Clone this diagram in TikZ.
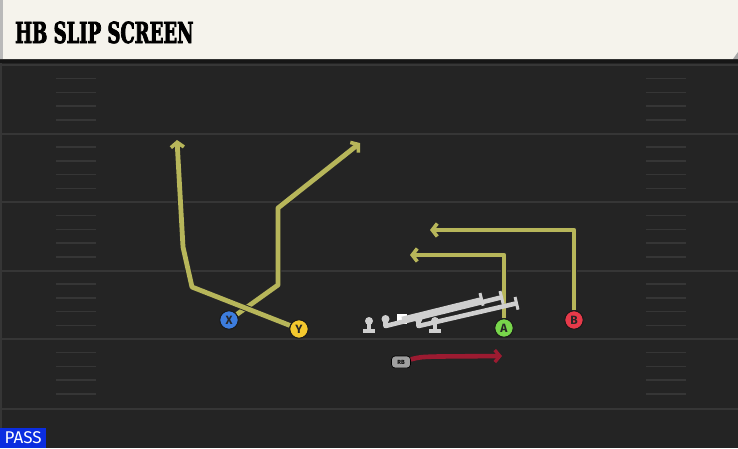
\documentclass[tikz,border=0pt]{standalone}
\usepackage{fontspec}
\setsansfont{Fira Sans}
\newfontfamily\titlefont[FakeStretch=0.62, BoldFeatures={FakeBold=2.5}]{DejaVu Serif}
\usetikzlibrary{positioning, arrows.meta, backgrounds}

\definecolor{fieldgray}{HTML}{242424}
\definecolor{linegray}{HTML}{363636}
\definecolor{cream}{HTML}{F5F3EC}
\definecolor{routeyellow}{HTML}{B7B65A}
\definecolor{runred}{HTML}{9C1B31}
\definecolor{olgray}{HTML}{CFCFCF}
\definecolor{passblue}{HTML}{0B2DE0}
\definecolor{xblue}{HTML}{3D7DDE}
\definecolor{yyellow}{HTML}{F4C82E}
\definecolor{agreen}{HTML}{78D64B}
\definecolor{bred}{HTML}{E63A4A}

\begin{document}
\begin{tikzpicture}[x=1pt, y=-1pt, node distance=16.5pt, on grid,
  player/.style = {circle, draw=black!90, line width=1pt, minimum size=18.5pt,
    inner sep=0pt, font=\sffamily\bfseries\fontsize{12}{12}\selectfont, text=black!85},
  route/.style = {draw=routeyellow, line width=4.8pt, line join=round,
    -{Straight Barb[length=5pt, width=13pt, line width=3.6pt]},
    preaction={draw=black!85, line width=6.6pt}},
  block/.style = {draw=olgray, line width=4.6pt, line join=round,
    -{Bar[width=13pt, line width=3pt]}},
  guard/.style = {circle, fill=olgray, minimum size=8pt, inner sep=0pt},
  yardline/.style = {draw=linegray, line width=2pt},
  hash/.style = {draw=linegray, line width=1.5pt}]
\useasboundingbox (0,0) rectangle (738,448);

% header and field
\begin{scope}[on background layer]
\fill[fieldgray] (0,59) rectangle (738,448);
\fill[black!40!fieldgray] (0,59) rectangle (738,63);
\fill[linegray] (0,63) rectangle (2,448);
\fill[cream] (0,0) -- (738,0) -- (738,52) -- (733,59) -- (0,59) -- cycle;
\fill[gray!70] (733,59) -- (738,52) -- (738,59) -- cycle;
\fill[gray!55] (0,0) rectangle (3,59);
\foreach \yl in {65,133.5,202,270.5,339,409}
  \draw[yardline] (0,\yl) -- (738,\yl);
\foreach \yl in {65,133.5,202,270.5,339}
  \foreach \k in {1,...,4} {
    \draw[hash] (56,{\yl+13.7*\k}) -- (96,{\yl+13.7*\k});
    \draw[hash] (646,{\yl+13.7*\k}) -- (686,{\yl+13.7*\k});
  }
\end{scope}
\node[anchor=base west, inner sep=0pt,
  font=\titlefont\bfseries\fontsize{29}{29}\selectfont] (title) at (15,43) {HB SLIP SCREEN};

% offensive line
\node[fill=white, minimum size=10pt, inner sep=0pt] (C) at (402,319) {};
\node[guard] (LG) [left = of C] {};
\node[guard] (RG) [right = of C] {};
\node[guard] (LT) [left = of LG, yshift=-2pt] {};
\node[guard] (RT) [right = of RG, yshift=-2pt] {};
\foreach \t in {LT, RT}
  \draw[olgray, line width=4pt] (\t.center) -- ++(0,10) ++(-6,0) -- ++(12,0);
\draw[block] (LG.center) -- ++(0,7) -- (503,297);
\draw[block] (C.center) -- (483,299);
\draw[block] (RG.center) -- ++(0,7) -- (518,303);

% skill players
\node[player, fill=xblue] (X) at (229,320) {X};
\node[player, fill=yyellow] (Y) at (299,329) {Y};
\node[player, fill=agreen] (A) at (504,328) {A};
\node[player, fill=bred] (B) at (574,320) {B};
\node[rounded corners=3.5pt, fill=gray!75, draw=black, line width=0.7pt,
  minimum width=19pt, minimum height=12pt, inner sep=0pt,
  font=\sffamily\bfseries\fontsize{6}{6}\selectfont] (RB) at (401,362) {RB};

\coordinate (xend) at (360,143);
\coordinate (yend) at (177,140);
\coordinate (aend) at (410,255);
\coordinate (bend) at (430,230);
\coordinate (rbend) at (502,356);

\begin{scope}[on background layer]
\draw[route] (X) -- (278,285) -- (278,208) -- (xend);
\draw[route] (Y) -- (192,287) -- (183,247) -- (yend);
\draw[route] (A) -- (504,255) -- (aend);
\draw[route] (B) -- (574,230) -- (bend);
\end{scope}
\draw[runred, line width=4.6pt, -{Straight Barb[length=5pt, width=12pt, line width=3.4pt]}]
  (RB) .. controls (420,357) .. (438,356.5) -- (rbend);

\node[fill=passblue, text=white, font=\sffamily\fontsize{17}{17}\selectfont,
  inner sep=0pt, minimum width=46pt, minimum height=20pt, anchor=south west] (pass) at (0,448) {PASS};
\end{tikzpicture}
\end{document}
